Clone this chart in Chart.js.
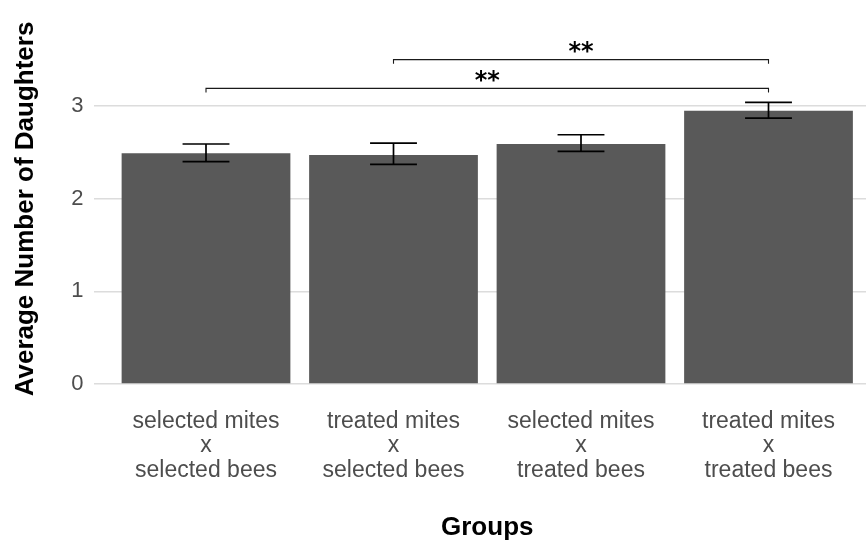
<!DOCTYPE html>
<html>
<head>
<meta charset="utf-8">
<script src="https://cdn.jsdelivr.net/npm/chart.js@4/dist/chart.umd.min.js"></script>
<style>
  html, body { margin: 0; padding: 0; background: #ffffff; overflow: hidden; }
  #wrap { width: 881px; height: 543px; }
</style>
</head>
<body>
<div id="wrap"><canvas id="chart"></canvas></div>
<script>
// Groups (x categories), one multi-line label per bar
const groups = [
  ['selected mites', 'x', 'selected bees'],
  ['treated mites', 'x', 'selected bees'],
  ['selected mites', 'x', 'treated bees'],
  ['treated mites', 'x', 'treated bees']
];
// Mean number of daughters per group, with error-bar limits
const meanDaughters = [2.49, 2.47, 2.59, 2.95];
const errLower = [2.40, 2.37, 2.51, 2.87];
const errUpper = [2.59, 2.60, 2.69, 3.04];
// Y tick values
const yTicks = [0, 1, 2, 3];
// Significance comparisons: from group, to group, bracket height, label
const compFrom = [1, 2];
const compTo = [4, 4];
const compHeight = [3.19, 3.5];
const compLabel = ['**', '**'];

const positions = groups.map((g, i) => i + 1);

const errorBars = {
  id: 'errorBars',
  afterDatasetsDraw(chart) {
    const { ctx, scales: { x, y } } = chart;
    ctx.save();
    ctx.strokeStyle = '#000000';
    ctx.lineWidth = 1.7;
    for (let i = 0; i < positions.length; i++) {
      const cx = x.getPixelForValue(positions[i]);
      const xl = x.getPixelForValue(positions[i] - 0.125);
      const xr = x.getPixelForValue(positions[i] + 0.125);
      const yt = y.getPixelForValue(errUpper[i]);
      const yb = y.getPixelForValue(errLower[i]);
      ctx.beginPath();
      ctx.moveTo(cx, yt); ctx.lineTo(cx, yb);
      ctx.moveTo(xl, yt); ctx.lineTo(xr, yt);
      ctx.moveTo(xl, yb); ctx.lineTo(xr, yb);
      ctx.stroke();
    }
    ctx.restore();
  }
};

const sigBrackets = {
  id: 'sigBrackets',
  afterDatasetsDraw(chart) {
    const { ctx, scales: { x, y } } = chart;
    ctx.save();
    ctx.strokeStyle = '#1a1a1a';
    ctx.lineWidth = 1.1;
    ctx.fillStyle = '#000000';
    ctx.font = 'bold 24px "DejaVu Sans"';
    ctx.textAlign = 'center';
    ctx.textBaseline = 'middle';
    for (let i = 0; i < compFrom.length; i++) {
      const x1 = x.getPixelForValue(compFrom[i]);
      const x2 = x.getPixelForValue(compTo[i]);
      const yy = y.getPixelForValue(compHeight[i]);
      const tip = 4;
      ctx.beginPath();
      ctx.moveTo(x1, yy + tip);
      ctx.lineTo(x1, yy);
      ctx.lineTo(x2, yy);
      ctx.lineTo(x2, yy + tip);
      ctx.stroke();
      ctx.fillText(compLabel[i], (x1 + x2) / 2, yy - 7);
    }
    ctx.restore();
  }
};

new Chart(document.getElementById('chart'), {
  type: 'bar',
  data: {
    datasets: [{
      data: positions.map((p, i) => ({ x: p, y: meanDaughters[i] })),
      backgroundColor: '#595959',
      borderWidth: 0,
      barPercentage: 0.9,
      categoryPercentage: 1.0
    }]
  },
  options: {
    responsive: true,
    maintainAspectRatio: false,
    animation: false,
    layout: { padding: { top: 34, left: 0, right: 0, bottom: 0 } },
    plugins: { legend: { display: false }, tooltip: { enabled: false } },
    scales: {
      x: {
        type: 'linear',
        offset: false,
        min: 0.4,
        max: 4.6,
        afterBuildTicks(scale) { scale.ticks = positions.map(v => ({ value: v })); },
        afterFit(scale) { scale.height = 159; },
        grid: { display: false, drawTicks: false, offset: false },
        border: { display: false },
        ticks: {
          autoSkip: false,
          maxRotation: 0,
          padding: 25,
          color: '#4d4d4d',
          font: { family: '"Liberation Sans", Arial, sans-serif', size: 23, lineHeight: 1.07 },
          callback: (v) => groups[v - 1] || ''
        },
        title: {
          display: true,
          text: 'Groups',
          color: '#000000',
          font: { family: '"Liberation Sans", Arial, sans-serif', size: 26, weight: 'bold', lineHeight: 1.2 },
          padding: { top: 0, bottom: 0 }
        }
      },
      y: {
        min: 0,
        max: 3.777,
        afterBuildTicks(scale) { scale.ticks = yTicks.map(v => ({ value: v })); },
        afterFit(scale) { scale.width = 93.5; },
        grid: { color: '#dcdcdc', lineWidth: 1.6, drawTicks: false },
        border: { display: false },
        ticks: {
          padding: 10,
          color: '#4d4d4d',
          font: { family: '"Liberation Sans", Arial, sans-serif', size: 22 }
        },
        title: {
          display: true,
          text: 'Average Number of Daughters',
          color: '#000000',
          font: { family: '"Liberation Sans", Arial, sans-serif', size: 26, weight: 'bold', lineHeight: 1.2 },
          padding: { top: 10, bottom: 0 }
        }
      }
    }
  },
  plugins: [errorBars, sigBrackets]
});
</script>
</body>
</html>
